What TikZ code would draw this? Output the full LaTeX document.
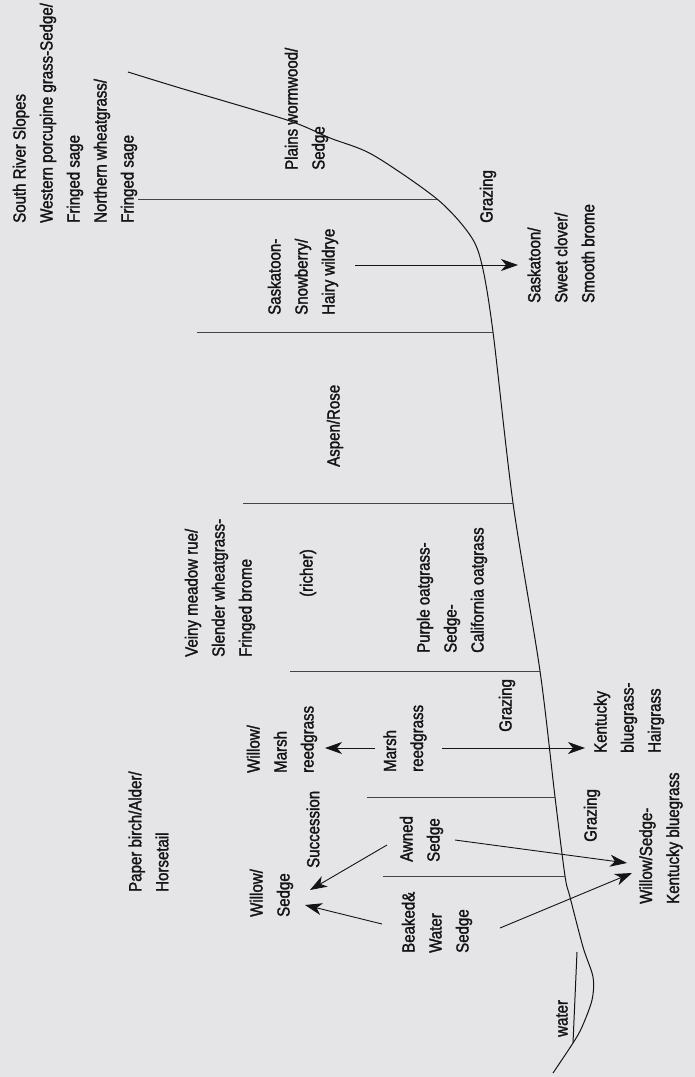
\documentclass[tikz,border=0pt]{standalone}
\usepackage{fontspec}
\setmainfont[FakeStretch=0.86,FakeBold=1.6]{Liberation Sans}
\usetikzlibrary{arrows.meta}
\definecolor{bg}{RGB}{229,229,231}
\definecolor{ink}{RGB}{20,20,20}
\begin{document}
\begin{tikzpicture}[x=1pt,y=-1pt,
  lbl/.style={rotate=90, anchor=west, align=left, inner sep=0pt, font=\fontsize{17.5}{27}\selectfont, text=ink},
  curve/.style={line width=1pt, draw=ink},
  divider/.style={line width=1pt, draw=ink!80},
  arr/.style={line width=0.9pt, draw=ink, -{Stealth[length=17pt,width=12pt,inset=5pt]}}]
\fill[bg] (0,0) rectangle (695,1077);
\useasboundingbox (0,0) rectangle (695,1077);

% profile points on the slope
\coordinate (p1) at (437,199);
\coordinate (p2) at (493,332);
\coordinate (p3) at (513,503);
\coordinate (p4) at (540,671);
\coordinate (p5) at (555,797);
\coordinate (p6) at (565,876);
\coordinate (wb) at (573,1043);
\coordinate (wt) at (577,952);

% slope profile
\draw[curve] plot[smooth, tension=0.5] coordinates {(128,72) (180,88) (287,120) (330,138) (373,155) (437,199) (470,235) (482,265) (493,332) (513,503) (540,671) (555,797) (565,876) (570,897) (583,947) (593,977) (592,1000) (582,1027) (573,1043) (553,1073)};
\draw[curve] (wb) -- (wt);

% dividers
\coordinate (d1) at (138,199);
\coordinate (d2) at (197,332);
\coordinate (d3) at (243,503);
\coordinate (d4) at (290,671);
\coordinate (d5) at (367,797);
\coordinate (d6) at (383,876);
\draw[divider] (d1) -- (p1);
\draw[divider] (d2) -- (p2);
\draw[divider] (d3) -- (p3);
\draw[divider] (d4) -- (p4);
\draw[divider] (d5) -- (p5);
\draw[divider] (d6) -- (p6);

% labels
\node[lbl] (srs) at (75,223) {South River Slopes\\Western porcupine grass-Sedge/\\Fringed sage\\Northern wheatgrass/\\Fringed sage};
\node[lbl] (pw) at (306.5,170) {Plains wormwood/\\Sedge};
\node[lbl] (graz1) at (488,223) {Grazing};
\node[lbl] (sask1) at (303,315) {Saskatoon-\\Snowberry/\\Hairy wildrye};
\node[lbl] (sask2) at (561,303) {Saskatoon/\\Sweet clover/\\Smooth brome};
\node[lbl] (aspen) at (335,467) {Aspen/Rose};
\node[lbl] (veiny) at (220,657) {Veiny meadow rue/\\Slender wheatgrass-\\Fringed brome};
\node[lbl] (richer) at (308,597) {(richer)};
\node[lbl] (purple) at (452,653) {Purple oatgrass-\\Sedge-\\California oatgrass};
\node[lbl] (graz2) at (507,732) {Grazing};
\node[lbl] (wmr) at (282,773) {Willow/\\Marsh\\reedgrass};
\node[lbl] (mr) at (405,772) {Marsh\\reedgrass};
\node[lbl] (kbh) at (629,753) {Kentucky\\bluegrass-\\Hairgrass};
\node[lbl] (succ) at (313,868) {Succession};
\node[lbl] (pba) at (148.5,892) {Paper birch/Alder/\\Horsetail};
\node[lbl] (ws) at (271.5,917) {Willow/\\Sedge};
\node[lbl] (awned) at (421.5,862) {Awned\\Sedge};
\node[lbl] (beaked) at (437,953) {Beaked\&\\Water\\Sedge};
\node[lbl] (graz3) at (592,842) {Grazing};
\node[lbl] (wskb) at (661,904) {Willow/Sedge-\\Kentucky bluegrass};
\node[lbl] (water) at (562,1037) {water};

% arrows
\draw[arr] ([shift={(52,-50)}]sask1.west) -- ([shift={(-43,-38)}]sask2.west);
\draw[arr] ([shift={(-30,-24)}]mr.west) -- ([shift={(43,-25)}]wmr.west);
\draw[arr] ([shift={(37,-24)}]mr.west) -- ([shift={(-44,-5)}]kbh.west);
\draw[arr] ([shift={(-34.5,-17)}]awned.west) -- ([shift={(38.5,-27)}]ws.west);
\draw[arr] ([shift={(-55,-29)}]beaked.west) -- ([shift={(33.5,-12)}]ws.west);
\draw[arr] ([shift={(33.5,-22)}]awned.west) -- ([shift={(-34,-41)}]wskb.west);
\draw[arr] ([shift={(63,-25)}]beaked.west) -- ([shift={(-29,-31)}]wskb.west);
\end{tikzpicture}
\end{document}
